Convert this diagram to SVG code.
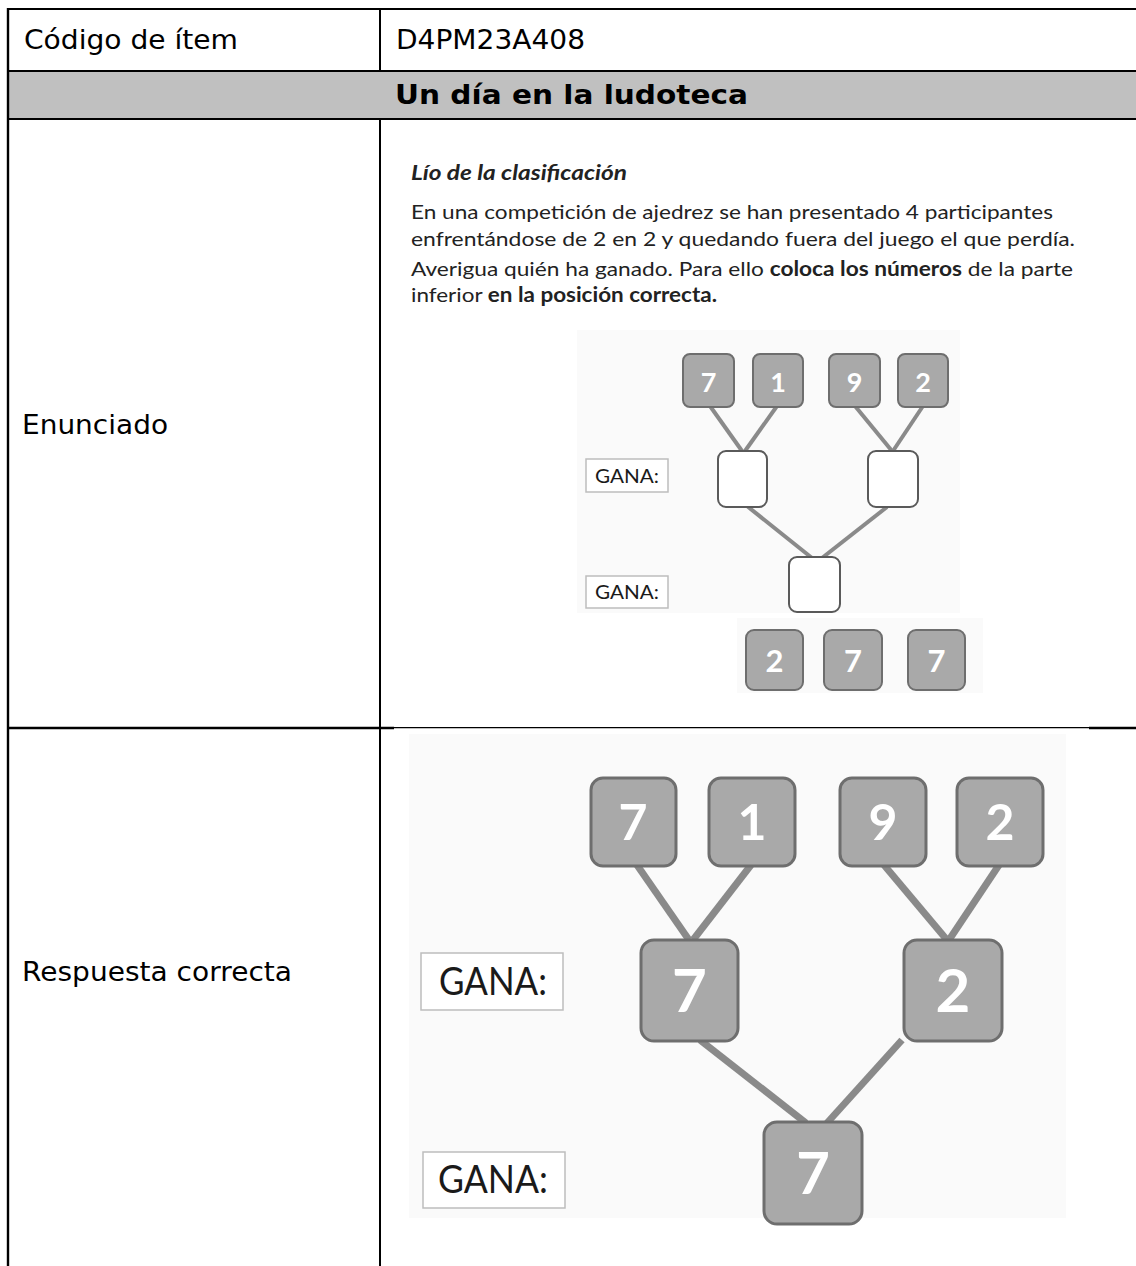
<svg xmlns="http://www.w3.org/2000/svg" width="1136" height="1266" viewBox="0 0 1136 1266">
<style>
.cell{font-family:"DejaVu Sans",sans-serif;font-size:26px;fill:#000}
.hdr{font-family:"DejaVu Sans",sans-serif;font-size:26px;font-weight:bold;fill:#000}
.para{font-family:Lato,"Open Sans",sans-serif;font-size:20px;fill:#222}
.b{font-weight:bold}
.bi{font-weight:bold;font-style:italic}
.gbox{fill:#a9a9a9;stroke:#6e6e6e}
.wbox{fill:#fff;stroke:#5a5a5a;stroke-width:2}
.dig{font-family:Lato,"Open Sans",sans-serif;font-weight:bold;fill:#fff;text-anchor:middle}
.gana{fill:#fff;stroke:#bdbdbd;stroke-width:1.5}
.gtx{font-family:Lato,"Open Sans",sans-serif;fill:#1a1a1a}
.ls{stroke:#8a8a8a;stroke-width:4;fill:none}
.ll{stroke:#8a8a8a;stroke-width:7;fill:none}
.tl{stroke:#000;fill:none}
</style>
<rect x="0" y="0" width="1136" height="1266" fill="#fff"/>
<g id="table">
<rect x="8" y="72" width="1128" height="46" fill="#c0c0c0"/>
<line class="tl" x1="7" y1="9" x2="1136" y2="9" stroke-width="2"/>
<line class="tl" x1="7" y1="71" x2="1136" y2="71" stroke-width="2"/>
<line class="tl" x1="7" y1="119" x2="1136" y2="119" stroke-width="2"/>
<line class="tl" x1="8" y1="8" x2="8" y2="1266" stroke-width="2.4"/>
<line class="tl" x1="380" y1="9" x2="380" y2="71" stroke-width="2"/>
<line class="tl" x1="380" y1="119" x2="380" y2="1266" stroke-width="2"/>
<line class="tl" x1="7" y1="728" x2="394" y2="728" stroke-width="2.6"/>
<line class="tl" x1="394" y1="727.6" x2="1089" y2="727.6" stroke-width="1.3"/>
<line class="tl" x1="1089" y1="728" x2="1136" y2="728" stroke-width="2.6"/>
<text class="cell" x="24" y="49" textLength="214" lengthAdjust="spacingAndGlyphs">Código de ítem</text>
<text class="cell" x="396" y="49" textLength="189" lengthAdjust="spacingAndGlyphs">D4PM23A408</text>
<text class="hdr" x="395" y="104" textLength="353" lengthAdjust="spacingAndGlyphs">Un día en la ludoteca</text>
<text class="cell" x="22" y="434" textLength="146" lengthAdjust="spacingAndGlyphs">Enunciado</text>
<text class="cell" x="22" y="981" textLength="270" lengthAdjust="spacingAndGlyphs">Respuesta correcta</text>
</g>
<g id="statement">
<text class="para bi" x="411" y="180" textLength="216" lengthAdjust="spacingAndGlyphs">Lío de la clasificación</text>
<text class="para" x="411" y="219" textLength="642" lengthAdjust="spacingAndGlyphs">En una competición de ajedrez se han presentado 4 participantes</text>
<text class="para" x="411" y="246" textLength="664" lengthAdjust="spacingAndGlyphs">enfrentándose de 2 en 2 y quedando fuera del juego el que perdía.</text>
<text class="para" x="411" y="276" textLength="662" lengthAdjust="spacingAndGlyphs">Averigua quién ha ganado. Para ello <tspan class="b">coloca los números</tspan> de la parte</text>
<text class="para" x="411" y="302" textLength="306" lengthAdjust="spacingAndGlyphs">inferior <tspan class="b">en la posición correcta.</tspan></text>
</g>
<rect x="577" y="330" width="383" height="283" fill="#fafafa"/>
<rect x="737" y="618" width="246" height="75" fill="#fafafa"/>
<rect x="409" y="734" width="657" height="484" fill="#fafafa"/>
<g id="connectors">
<line class="ls" x1="710" y1="406" x2="742" y2="451"/>
<line class="ls" x1="777" y1="406" x2="745" y2="451"/>
<line class="ls" x1="855" y1="406" x2="892" y2="451"/>
<line class="ls" x1="923" y1="406" x2="893" y2="451"/>
<line class="ls" x1="747" y1="506" x2="812" y2="558"/>
<line class="ls" x1="887" y1="507" x2="822" y2="558"/>
<line class="ll" x1="637" y1="865" x2="689" y2="940"/>
<line class="ll" x1="751" y1="865" x2="693" y2="940"/>
<line class="ll" x1="884" y1="865" x2="947" y2="940"/>
<line class="ll" x1="999" y1="865" x2="949" y2="940"/>
<line class="ll" x1="700" y1="1040" x2="806" y2="1123"/>
<line class="ll" x1="902" y1="1040" x2="827" y2="1123"/>
</g>
<g id="s-top-7"><rect class="gbox" x="683" y="354" width="51" height="53" rx="7" stroke-width="2"/><text class="dig" x="708.5" y="392" font-size="27">7</text></g>
<g id="s-top-1"><rect class="gbox" x="753" y="354" width="50" height="53" rx="7" stroke-width="2"/><text class="dig" x="778" y="392" font-size="27">1</text></g>
<g id="s-top-9"><rect class="gbox" x="829" y="354" width="51" height="53" rx="7" stroke-width="2"/><text class="dig" x="854.5" y="392" font-size="27">9</text></g>
<g id="s-top-2"><rect class="gbox" x="898" y="354" width="50" height="53" rx="7" stroke-width="2"/><text class="dig" x="923" y="392" font-size="27">2</text></g>
<g id="s-mid-left"><rect class="wbox" x="718" y="451" width="49" height="56" rx="8"/></g>
<g id="s-mid-right"><rect class="wbox" x="868" y="451" width="50" height="56" rx="8"/></g>
<g id="s-final"><rect class="wbox" x="789" y="557" width="51" height="55" rx="8"/></g>
<g id="s-gana-1"><rect class="gana" x="586" y="459" width="82" height="33"/><text class="gtx" x="595" y="483" font-size="20" textLength="64" lengthAdjust="spacingAndGlyphs">GANA:</text></g>
<g id="s-gana-2"><rect class="gana" x="586" y="576" width="82" height="32"/><text class="gtx" x="595" y="599" font-size="20" textLength="64" lengthAdjust="spacingAndGlyphs">GANA:</text></g>
<g id="s-opt-2"><rect class="gbox" x="746" y="630" width="57" height="60" rx="8" stroke-width="2"/><text class="dig" x="774.5" y="672" font-size="31">2</text></g>
<g id="s-opt-7a"><rect class="gbox" x="824" y="630" width="58" height="60" rx="8" stroke-width="2"/><text class="dig" x="853" y="672" font-size="31">7</text></g>
<g id="s-opt-7b"><rect class="gbox" x="908" y="630" width="57" height="60" rx="8" stroke-width="2"/><text class="dig" x="936.5" y="672" font-size="31">7</text></g>
<g id="l-top-7"><rect class="gbox" x="591" y="778" width="85" height="88" rx="12" stroke-width="3"/><text class="dig" x="633" y="840" font-size="50">7</text></g>
<g id="l-top-1"><rect class="gbox" x="709" y="778" width="86" height="88" rx="12" stroke-width="3"/><text class="dig" x="752" y="840" font-size="50">1</text></g>
<g id="l-top-9"><rect class="gbox" x="840" y="778" width="86" height="88" rx="12" stroke-width="3"/><text class="dig" x="883" y="840" font-size="50">9</text></g>
<g id="l-top-2"><rect class="gbox" x="957" y="778" width="86" height="88" rx="12" stroke-width="3"/><text class="dig" x="1000" y="840" font-size="50">2</text></g>
<g id="l-mid-7"><rect class="gbox" x="641" y="940" width="97" height="101" rx="13" stroke-width="3"/><text class="dig" x="689.5" y="1012" font-size="60">7</text></g>
<g id="l-mid-2"><rect class="gbox" x="904" y="940" width="98" height="101" rx="13" stroke-width="3"/><text class="dig" x="953" y="1012" font-size="60">2</text></g>
<g id="l-final-7"><rect class="gbox" x="764" y="1122" width="98" height="102" rx="13" stroke-width="3"/><text class="dig" x="813" y="1194" font-size="58">7</text></g>
<g id="l-gana-1"><rect class="gana" x="421" y="953" width="142" height="57" stroke-width="2"/><text class="gtx" x="439" y="995" font-size="38" textLength="108" lengthAdjust="spacingAndGlyphs">GANA:</text></g>
<g id="l-gana-2"><rect class="gana" x="423" y="1152" width="142" height="56" stroke-width="2"/><text class="gtx" x="438" y="1193" font-size="38" textLength="110" lengthAdjust="spacingAndGlyphs">GANA:</text></g>
</svg>
